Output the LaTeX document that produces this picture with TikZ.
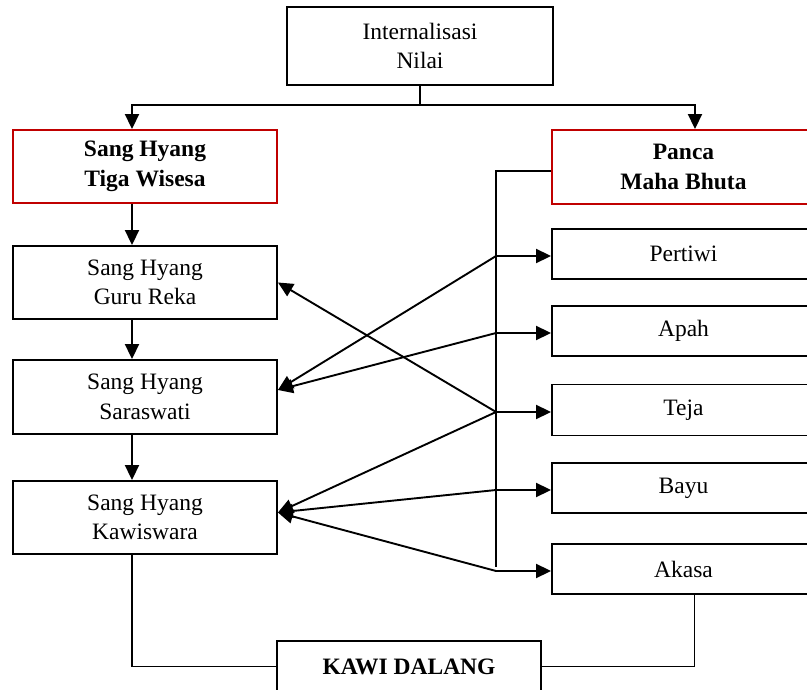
\documentclass[tikz,border=0pt]{standalone}
\usepackage{fontspec}
\setmainfont{Liberation Serif}
\usepackage{tikz}
\usetikzlibrary{positioning,arrows.meta}
\definecolor{boxred}{RGB}{192,0,0}
\tikzstyle{line} = [line width=1.9pt]
\tikzstyle{arrow} = [line width=1.9pt,->,>={Triangle[length=15pt,width=14pt]}]
\tikzstyle{box} = [rectangle, draw, line width=1.9pt, align=center, minimum width=264pt, inner sep=0pt]
\tikzstyle{redbox} = [box, draw=boxred, font=\fontsize{23.5}{30}\selectfont\bfseries]

\begin{document}
\begin{tikzpicture}[x=1pt, y=-1pt, font=\fontsize{23.5}{29.5}\selectfont]
            \useasboundingbox (0,0) rectangle (807,690);
            \clip (0,0) rectangle (807,690);

            \node (nilai) [box, minimum width=266pt, minimum height=78pt] at (420,46) {Internalisasi\\ Nilai};
            \node (tiga) [redbox, minimum height=73pt] at (145,166.5) {Sang Hyang\\ Tiga Wisesa};
            \node (guru) [box, below of=tiga, node distance=116pt, minimum height=73pt] {Sang Hyang\\ Guru Reka};
            \node (saras) [box, below of=guru, node distance=114.5pt, minimum height=74pt] {Sang Hyang\\ Saraswati};
            \node (kawis) [box, below of=saras, node distance=120.5pt, minimum height=73pt] {Sang Hyang\\ Kawiswara};

            \node (panca) [redbox, minimum width=263pt, minimum height=74pt] at (683.5,167) {Panca\\ Maha Bhuta};
            \node (pertiwi) [box, below of=panca, node distance=87pt, minimum width=263pt, minimum height=50pt] {Pertiwi};
            \node (apah) [box, below of=pertiwi, node distance=77pt, minimum width=263pt, minimum height=50pt] {Apah};
            \node (teja) [box, below of=apah, node distance=79pt, minimum width=263pt, minimum height=51pt] {Teja};
            \node (bayu) [box, below of=teja, node distance=78pt, minimum width=263pt, minimum height=50pt] {Bayu};
            \node (akasa) [box, below of=bayu, node distance=81pt, minimum width=263pt, minimum height=50pt] {Akasa};

            \node (kawi) [box, minimum height=51pt, font=\fontsize{23.5}{29}\selectfont\bfseries] at (409,666.5) {KAWI DALANG};

            \draw [line] (nilai.south) -- ++(0,19) coordinate (split);
            \draw [arrow] (split) -| ([xshift=-13pt]tiga.north);
            \draw [arrow] (split) -| ([xshift=11.5pt]panca.north);

            \draw [arrow] ([xshift=-13pt]tiga.south) -- ([xshift=-13pt]guru.north);
            \draw [arrow] ([xshift=-13pt]guru.south) -- ([xshift=-13pt]saras.north);
            \draw [arrow] ([xshift=-13pt]saras.south) -- ([xshift=-13pt]kawis.north);

            \draw [line] ([yshift=-4pt]panca.west) -- ++(-55,0) coordinate (bus) -- ([yshift=2pt]bus |- akasa.west);
            \foreach \n in {pertiwi,apah,teja,bayu,akasa}
                \draw [arrow] ([yshift=-2pt]bus |- \n.west) -- ([yshift=-2pt]\n.west);

            \draw [arrow] ([yshift=-2pt]bus |- pertiwi.west) -- ([yshift=7pt]saras.east);
            \draw [arrow] ([yshift=-2pt]bus |- apah.west) -- ([yshift=7pt]saras.east);
            \draw [arrow] ([yshift=-2pt]bus |- teja.west) -- (guru.east);
            \draw [arrow] ([yshift=-2pt]bus |- teja.west) -- ([yshift=5pt]kawis.east);
            \draw [arrow] ([yshift=-2pt]bus |- bayu.west) -- ([yshift=5pt]kawis.east);
            \draw [arrow] ([yshift=-2pt]bus |- akasa.west) -- ([yshift=5pt]kawis.east);

            \draw [line] ([xshift=-13pt]kawis.south) |- (kawi.west);
            \draw [line] ([xshift=11pt]akasa.south) |- (kawi.east);
        \end{tikzpicture}
\end{document}
